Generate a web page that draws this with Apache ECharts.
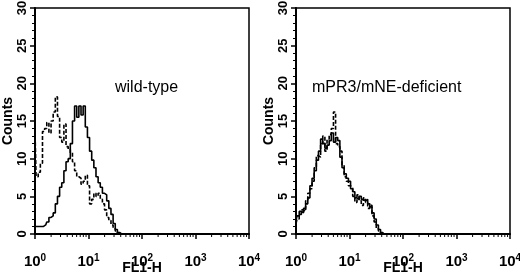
<!DOCTYPE html>
<html>
<head>
<meta charset="utf-8">
<script src="https://cdn.jsdelivr.net/npm/echarts@6/dist/echarts.min.js"></script>
<style>
  html, body { margin: 0; padding: 0; background: #fff; }
  #main { width: 520px; height: 273px; }
</style>
</head>
<body>
<div id="main"></div>
<script>
// channel positions, in decades of FL1-H (10^x)
var logFL1 = [0, 0.04, 0.08, 0.12, 0.16, 0.2, 0.24, 0.28, 0.32, 0.36, 0.4, 0.44, 0.48, 0.52,
  0.56, 0.6, 0.64, 0.68, 0.72, 0.76, 0.8, 0.84, 0.88, 0.92, 0.96, 1.0, 1.04, 1.08, 1.12, 1.16,
  1.2, 1.24, 1.28, 1.32, 1.36, 1.4, 1.44, 1.48, 1.52, 1.56, 1.6, 1.64];

// wild-type panel
var wtSolid = [1, 1, 1, 1, 1, 1.2, 1.6, 2.2, 2.4, 2.8, 4, 5, 6.2, 6.8, 8.4, 9.6, 10, 12, 15, 17,
  15.5, 17, 15.8, 17, 14.2, 12.8, 11, 9.8, 8.8, 7.6, 6.8, 6.2, 5.4, 5.2, 4.4, 3.4, 2.6, 1.4, 0.6, 0.2, 0, 0];
var wtDashed = [13.8, 7.6, 8.2, 9.4, 13.6, 14, 14.8, 13.4, 15, 16.2, 18.2, 15.6, 12.8, 12.2, 14.6,
  11.6, 11.2, 10.8, 9.6, 8.4, 7.6, 7.4, 6.6, 7, 7.8, 6.4, 4, 4.6, 5.4, 5, 5.4, 4.6, 4, 3.2, 2.2,
  1.8, 1.2, 0.8, 0.4, 0, 0, 0];

// mPR3/mNE-deficient panel
var koSolid = [1.8, 2.4, 3, 2.8, 3.4, 4, 4.8, 6.4, 7.4, 8.4, 9.8, 11, 12.6, 12, 11.4, 11.8, 12.4,
  13.4, 12.2, 12.8, 12.4, 10.2, 8.8, 8, 7.4, 7, 6, 5.6, 4.8, 4.6, 5, 4.6, 4.4, 4.6, 4, 3.6, 2.8,
  2, 1.2, 0.6, 0.2, 0];
var koDashed = [1.4, 2, 2.6, 3.2, 3, 4.4, 5.4, 6, 7, 8.8, 10.4, 10.2, 12, 13, 11, 12.6, 13.2, 14,
  16.2, 12, 11.6, 11, 9.2, 7.6, 7, 6.4, 6.2, 5, 4.2, 5.2, 4.4, 3.8, 4.8, 4.2, 3.4, 3.8, 2.4, 1.6,
  0.8, 0.4, 0, 0];

var panelTitles = ["wild-type", "mPR3/mNE-deficient"];

function pairs(vals) {
  return vals.map(function (v, i) { return [Math.pow(10, logFL1[i]), v]; });
}

// minor log ticks 2..9 in each decade
var minorTicks = [];
for (var d = 0; d < 4; d++) {
  for (var k = 2; k < 10; k++) minorTicks.push([k * Math.pow(10, d), 0]);
}

function xAxisFor(idx) {
  return {
    gridIndex: idx, type: "log", logBase: 10, min: 1, max: 10000,
    name: "FL1-H", nameLocation: "middle", nameGap: 27, nameMoveOverlap: false,
    nameTextStyle: { fontFamily: "Liberation Sans", fontSize: 14, fontWeight: "bold", color: "#000" },
    axisLine: { lineStyle: { color: "#000", width: 2 } },
    axisTick: { length: 5, lineStyle: { color: "#000", width: 1.5 } },
    splitLine: { show: false },
    axisLabel: {
      margin: 11, padding: [8, 0, 0, 0], color: "#000", fontFamily: "Liberation Sans", fontSize: 15, fontWeight: "bold",
      formatter: function (v) { return "{b|10}{s|" + Math.round(Math.log10(v)) + "}"; },
      rich: {
        b: { fontSize: 15, fontWeight: "bold", fontFamily: "Liberation Sans" },
        s: { fontSize: 10, fontWeight: "bold", fontFamily: "Liberation Sans", padding: [0, 0, 7, 0] }
      }
    }
  };
}

function yAxisFor(idx) {
  return {
    gridIndex: idx, type: "value", min: 0, max: 30, interval: 5,
    name: "Counts", nameLocation: "middle", nameGap: 20, nameMoveOverlap: false,
    nameTextStyle: { fontFamily: "Liberation Sans", fontSize: 14, fontWeight: "bold", color: "#000" },
    axisLine: { show: true, lineStyle: { color: "#000", width: 2 } },
    axisTick: { show: true, length: 5, lineStyle: { color: "#000", width: 1.5 } },
    minorTick: { show: true, splitNumber: 5, length: 3, lineStyle: { color: "#000", width: 1 } },
    splitLine: { show: false },
    axisLabel: { rotate: 90, margin: 6, color: "#000", fontFamily: "Liberation Sans", fontSize: 13, fontWeight: "bold" }
  };
}

function histLine(idx, vals, dashed) {
  return {
    type: "line", xAxisIndex: idx, yAxisIndex: idx, data: pairs(vals),
    step: "middle", symbol: "none", silent: true,
    lineStyle: { color: "#000", width: 1.6, type: dashed ? [4, 2] : "solid" }
  };
}

function minorSeries(idx) {
  return {
    type: "custom", xAxisIndex: idx, yAxisIndex: idx, data: minorTicks, silent: true, clip: false,
    renderItem: function (params, api) {
      var p = api.coord([api.value(0), 0]);
      return { type: "line", shape: { x1: p[0], y1: p[1], x2: p[0], y2: p[1] + 3 },
        style: { stroke: "#000", lineWidth: 1 } };
    }
  };
}

var chart = echarts.init(document.getElementById("main"));
chart.setOption({
  animation: false,
  backgroundColor: "#fff",
  title: [
    { text: panelTitles[0], left: 110, top: 75,
      textStyle: { fontFamily: "Liberation Sans", fontSize: 16, fontWeight: "normal", color: "#000" } },
    { text: panelTitles[1], left: 307, top: 75,
      textStyle: { fontFamily: "Liberation Sans", fontSize: 16, fontWeight: "normal", color: "#000" } }
  ],
  grid: [
    { left: 35, right: 271, top: 8, bottom: 39, containLabel: false, outerBoundsMode: "none",
      show: true, borderColor: "#000", borderWidth: 1.5 },
    { left: 296, right: 10, top: 8, bottom: 39, containLabel: false, outerBoundsMode: "none",
      show: true, borderColor: "#000", borderWidth: 1.5 }
  ],
  xAxis: [xAxisFor(0), xAxisFor(1)],
  yAxis: [yAxisFor(0), yAxisFor(1)],
  series: [
    histLine(0, wtSolid, false),
    histLine(0, wtDashed, true),
    histLine(1, koSolid, false),
    histLine(1, koDashed, true),
    minorSeries(0),
    minorSeries(1)
  ]
});
</script>
</body>
</html>
